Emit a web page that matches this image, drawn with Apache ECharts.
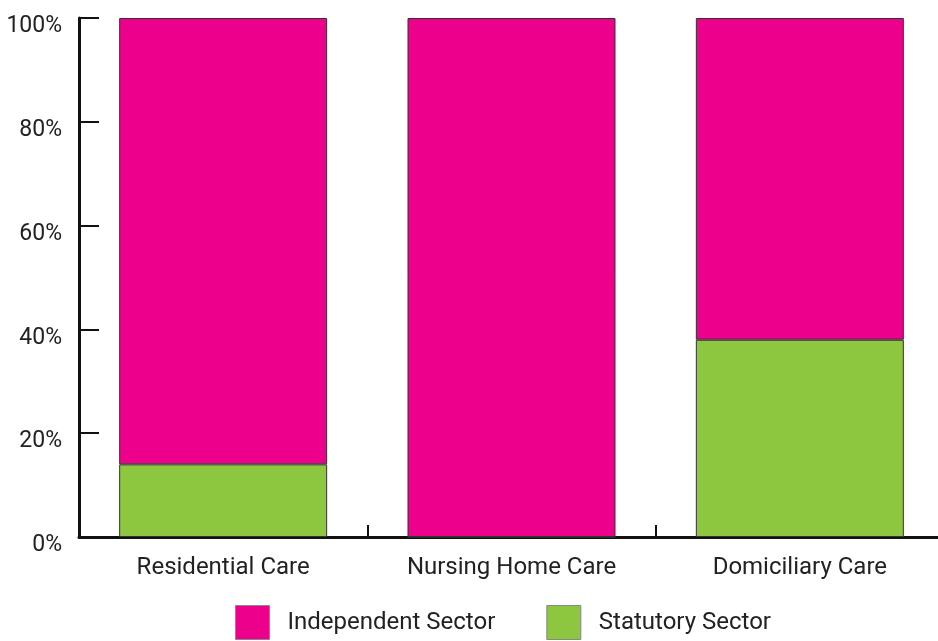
<!DOCTYPE html>
<html>
<head>
<meta charset="utf-8">
<script src="https://cdn.jsdelivr.net/npm/echarts@6/dist/echarts.min.js"></script>
<style>html,body{margin:0;padding:0;background:#fff}#c{width:938px;height:641px}</style>
</head>
<body>
<div id="c"></div>
<script>
const categories = ['Residential Care', 'Nursing Home Care', 'Domiciliary Care'];
const statutory = [14, 0, 38];
const independent = [86, 100, 62];
const yTicks = [0, 20, 40, 60, 80, 100];

const chart = echarts.init(document.getElementById('c'));
const font = 'Roboto, "DejaVu Sans", sans-serif';
chart.setOption({
  animation: false,
  backgroundColor: '#fff',
  grid: { left: 79, width: 865, top: 18, height: 519, containLabel: false, outerBoundsMode: 'none' },
  legend: {
    top: 605, left: 235, padding: 0,
    itemWidth: 34, itemHeight: 34, itemGap: 51,
    icon: 'rect',
    itemStyle: { borderColor: '#888', borderWidth: 1 },
    textStyle: { fontFamily: font, fontSize: 24, color: '#222', padding: [0, 0, 0, 13] },
    data: ['Independent Sector', 'Statutory Sector']
  },
  xAxis: {
    type: 'category', data: categories,
    axisLine: { lineStyle: { color: '#111', width: 3 } },
    axisTick: { show: true, inside: true, length: 12, lineStyle: { color: '#111', width: 2 } },
    axisLabel: { fontFamily: font, fontSize: 24, color: '#222', margin: 19 }
  },
  yAxis: {
    type: 'value', min: 0, max: 100, interval: 20,
    axisLine: { show: true, lineStyle: { color: '#111', width: 3 } },
    axisTick: { show: true, inside: true, length: 20, lineStyle: { color: '#111', width: 2 } },
    splitLine: { show: false },
    axisLabel: { fontFamily: font, fontSize: 23, color: '#222', margin: 17,
      verticalAlign: 'top', padding: [-3, 0, 0, 0],
      formatter: v => yTicks.includes(v) ? v + '%' : '' }
  },
  series: [
    { name: 'Statutory Sector', type: 'bar', stack: 's', data: statutory, barWidth: 208,
      itemStyle: { color: '#8DC63F', borderColor: '#333', borderWidth: 1 } },
    { name: 'Independent Sector', type: 'bar', stack: 's', data: independent, barWidth: 208,
      itemStyle: { color: '#EC008C', borderColor: '#333', borderWidth: 1 } }
  ]
});
</script>
</body>
</html>
